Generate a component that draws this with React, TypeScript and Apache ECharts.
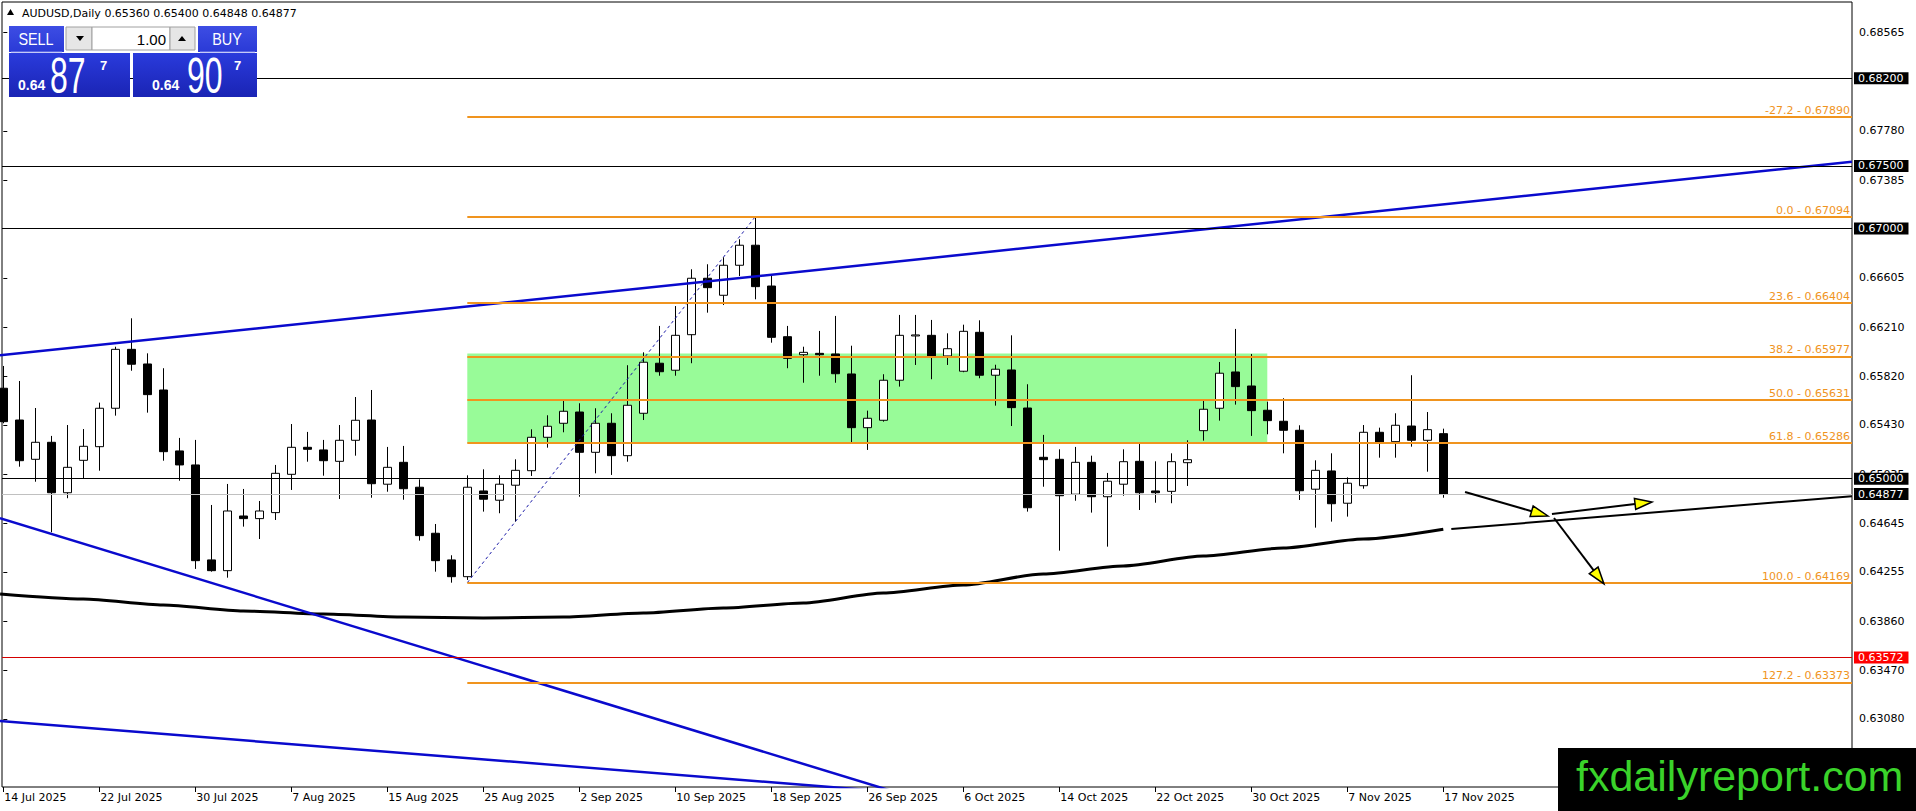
import React, { useEffect, useRef } from "react";
import * as echarts from "echarts";

// ---------- DATA ----------
const SYMBOL = "AUDUSD";
const TIMEFRAME = "Daily";

const OPEN = [
  0.65723, 0.65469, 0.65155, 0.65291, 0.64888, 0.65147, 0.65256, 0.65563, 0.66034, 0.65917,
  0.65709, 0.65222, 0.6511, 0.64351, 0.64265, 0.64702, 0.64681, 0.64729, 0.65035, 0.65251,
  0.6523, 0.65139, 0.65307, 0.65469, 0.64956, 0.65131, 0.64932, 0.64564, 0.64351, 0.64217,
  0.64902, 0.64828, 0.64948, 0.65064, 0.65331, 0.65443, 0.65533, 0.65211, 0.65443, 0.65184,
  0.65523, 0.65923, 0.65867, 0.66151, 0.66602, 0.66466, 0.66706, 0.66866, 0.6654, 0.66135,
  0.65991, 0.66002, 0.65997, 0.65837, 0.65408, 0.65467, 0.65787, 0.66141, 0.66146, 0.65981,
  0.65859, 0.6617, 0.65827, 0.65869, 0.65565, 0.65171, 0.65155, 0.64876, 0.65131, 0.64856,
  0.64956, 0.65139, 0.64902, 0.64899, 0.65128, 0.65384, 0.65563, 0.65853, 0.65741, 0.65547,
  0.65459, 0.65387, 0.64916, 0.65062, 0.64804, 0.64944, 0.65371, 0.65296, 0.65421, 0.65307,
  0.6536,
];
const HIGH = [
  0.65901, 0.65781, 0.65565, 0.65342, 0.65429, 0.65397, 0.65608, 0.66055, 0.66282, 0.66002,
  0.65883, 0.65326, 0.6531, 0.6479, 0.64958, 0.64918, 0.64822, 0.6511, 0.65437, 0.65374,
  0.6531, 0.65429, 0.65653, 0.65709, 0.65254, 0.65262, 0.64995, 0.64638, 0.64388, 0.65027,
  0.65075, 0.65027, 0.65155, 0.65395, 0.65507, 0.65621, 0.65603, 0.65563, 0.65523, 0.65907,
  0.6601, 0.66221, 0.6638, 0.66674, 0.66714, 0.6677, 0.66914, 0.67094, 0.66628, 0.66221,
  0.66055, 0.66181, 0.66301, 0.66063, 0.65544, 0.65835, 0.66309, 0.66309, 0.66269, 0.66162,
  0.66231, 0.66266, 0.65911, 0.66146, 0.65755, 0.6535, 0.65235, 0.65254, 0.65184, 0.65046,
  0.65235, 0.6528, 0.65139, 0.65203, 0.65307, 0.65627, 0.65933, 0.66197, 0.65997, 0.65616,
  0.65643, 0.65427, 0.65147, 0.65203, 0.65011, 0.65429, 0.65408, 0.65523, 0.65827, 0.65533,
  0.654,
];
const LOW = [
  0.65443, 0.65096, 0.64976, 0.64572, 0.64844, 0.64998, 0.65064, 0.65504, 0.65863, 0.65528,
  0.65144, 0.64984, 0.64279, 0.64257, 0.64209, 0.64617, 0.64518, 0.6467, 0.6491, 0.65136,
  0.65024, 0.64838, 0.65184, 0.64848, 0.64896, 0.64832, 0.64505, 0.64257, 0.64169, 0.64191,
  0.64737, 0.64724, 0.64657, 0.65022, 0.65248, 0.65371, 0.64856, 0.65043, 0.6503, 0.65136,
  0.65469, 0.65823, 0.65823, 0.65923, 0.66327, 0.66388, 0.6662, 0.66434, 0.66087, 0.65883,
  0.65767, 0.65823, 0.65767, 0.65291, 0.6523, 0.65456, 0.65736, 0.65909, 0.65795, 0.65909,
  0.65851, 0.65803, 0.65584, 0.65421, 0.64737, 0.64936, 0.64425, 0.64824, 0.64729, 0.64457,
  0.64864, 0.6475, 0.64808, 0.64804, 0.64942, 0.65304, 0.65464, 0.65592, 0.65342, 0.65355,
  0.65203, 0.6483, 0.64609, 0.64657, 0.64697, 0.6492, 0.65168, 0.65168, 0.65256, 0.65056,
  0.64848,
];
const CLOSE = [
  0.65456, 0.65144, 0.65291, 0.64888, 0.65091, 0.65259, 0.65563, 0.66034, 0.65915, 0.65672,
  0.65216, 0.6511, 0.64345, 0.64265, 0.64742, 0.64681, 0.64742, 0.65043, 0.65251, 0.65235,
  0.65144, 0.65307, 0.65467, 0.6496, 0.65091, 0.6492, 0.64545, 0.64345, 0.64217, 0.64932,
  0.64836, 0.64956, 0.65067, 0.65331, 0.65419, 0.65539, 0.65211, 0.65443, 0.65184, 0.65587,
  0.65931, 0.65855, 0.66146, 0.66602, 0.66527, 0.66706, 0.66866, 0.66535, 0.6613, 0.65962,
  0.6601, 0.65991, 0.65839, 0.65408, 0.65483, 0.65787, 0.66146, 0.66149, 0.65981, 0.66039,
  0.66178, 0.65827, 0.65875, 0.65568, 0.64768, 0.65152, 0.64864, 0.65131, 0.64856, 0.6498,
  0.65136, 0.64888, 0.64888, 0.65136, 0.65152, 0.65555, 0.65843, 0.65736, 0.65544, 0.65464,
  0.65387, 0.64904, 0.65067, 0.648, 0.64964, 0.65371, 0.65291, 0.65427, 0.65307, 0.65392,
  0.64877,
];

const DATE_TICK_BARS = [0, 6, 12, 18, 24, 30, 36, 42, 48, 54, 60, 66, 72, 78, 84, 90];
const DATE_LABELS = [
  "14 Jul 2025", "22 Jul 2025", "30 Jul 2025", "7 Aug 2025", "15 Aug 2025", "25 Aug 2025",
  "2 Sep 2025", "10 Sep 2025", "18 Sep 2025", "26 Sep 2025", "6 Oct 2025", "14 Oct 2025",
  "22 Oct 2025", "30 Oct 2025", "7 Nov 2025", "17 Nov 2025",
];

const PRICE_TICKS = [
  0.68565, 0.6778, 0.67385, 0.66605, 0.6621, 0.6582, 0.6543, 0.65035, 0.64645, 0.64255,
  0.6386, 0.6347, 0.6308,
];

const MA_BARS = [-0.2, 5, 10, 15, 20, 25, 30, 35, 40, 45, 50, 55, 60, 65, 70, 75, 80, 85, 90];
const MA_VALUES = [
  0.64079, 0.64039, 0.63991, 0.63943, 0.63919, 0.63895, 0.63887, 0.63895, 0.63927, 0.63967,
  0.64007, 0.64087, 0.64151, 0.64239, 0.64303, 0.64382, 0.64446, 0.64518, 0.64596,
];

const FIB_NAMES = ["-27.2", "0.0", "23.6", "38.2", "50.0", "61.8", "100.0", "127.2"];
const FIB_PRICES = [0.6789, 0.67094, 0.66404, 0.65977, 0.65631, 0.65286, 0.64169, 0.63373];
const FIB_START_BAR = 29;
const FIB_ANCHOR_BARS = [29, 47];
const FIB_ANCHOR_PRICES = [0.64169, 0.67094];

const ZONE_BARS = [29, 79];
const ZONE_PRICES = [0.66, 0.65283];

const LEVEL_PRICES = [0.682, 0.675, 0.67, 0.65];
const BID_PRICE = 0.64877;
const ASK_PRICE = 0.64907;
const ALERT_PRICE = 0.63572;
const LOT_SIZE = "1.00";

const UPPER_TREND_BARS = [-0.21, 115.54];
const UPPER_TREND_PRICES = [0.65986, 0.67534];
const LOWER_TREND1_BARS = [-0.21, 62.29];
const LOWER_TREND1_PRICES = [0.64684, 0.6224];
const LOWER_TREND2_BARS = [-0.21, 62.29];
const LOWER_TREND2_PRICES = [0.63064, 0.62428];
const SUPPORT_BARS = [90.5, 115.54];
const SUPPORT_PRICES = [0.64598, 0.6486];

const ARROW_FROM_BARS = [91.36, 96.79, 96.92];
const ARROW_FROM_PRICES = [0.64894, 0.64718, 0.64686];
const ARROW_TO_BARS = [96.54, 103.04, 100.04];
const ARROW_TO_PRICES = [0.64702, 0.64814, 0.64159];

// ---------- LAYOUT / STYLE ----------
const W = 1916;
const H = 811;
const GRID_LEFT = 2;
const GRID_TOP = 2;
const GRID_W = 1850;
const GRID_H = 785;
const X_MIN = -0.08125;
const X_MAX = X_MIN + GRID_W / 16;
const Y_MAX = 0.6881;
const Y_MIN = 0.62536;

const FONT = '"DejaVu Sans", sans-serif';
const SANS = '"Liberation Sans", Arial, sans-serif';
const ORANGE = "#f0941e";
const BLUE = "#0a0acd";

function buildOption(): any {
  const candles = OPEN.map((o, i) => [i, o, CLOSE[i], LOW[i], HIGH[i]]);

  const boxLabel = (p: number, bg: string) => ({
    show: true,
    position: "end",
    distance: 2,
    formatter: p.toFixed(5),
    color: "#ffffff",
    backgroundColor: bg,
    padding: [1, 5, 0, 4],
    fontFamily: FONT,
    fontSize: 11,
  });

  const levelLines: any[] = LEVEL_PRICES.map((p) => ({
    yAxis: p,
    lineStyle: { color: "#000000", width: 1, type: "solid" },
    label: boxLabel(p, "#000000"),
  }));
  levelLines.push({
    yAxis: BID_PRICE,
    lineStyle: { color: "#c0c0c0", width: 1, type: "solid" },
    label: boxLabel(BID_PRICE, "#000000"),
  });
  levelLines.push({
    yAxis: ALERT_PRICE,
    lineStyle: { color: "#d40000", width: 1, type: "solid" },
    label: boxLabel(ALERT_PRICE, "#ff0000"),
  });

  const fibLines = FIB_PRICES.map((p, k) => [
    {
      coord: [FIB_START_BAR, p],
      lineStyle: { color: ORANGE, width: 2, type: "solid" },
      label: {
        show: true,
        position: "insideEndTop",
        distance: [2, 1],
        formatter: `${FIB_NAMES[k]} - ${p.toFixed(5)}`,
        color: ORANGE,
        fontFamily: FONT,
        fontSize: 11,
      },
    },
    { coord: [X_MAX, p] },
  ]);

  const trend = (name: string, bars: number[], prices: number[], color: string, width: number, type: any = "solid") => ({
    name,
    type: "line",
    z: 4,
    silent: true,
    symbol: "none",
    showSymbol: false,
    data: bars.map((b, i) => [b, prices[i]]),
    lineStyle: { color, width, type },
  });

  const arrowData = ARROW_FROM_BARS.map((b, i) => [b, ARROW_FROM_PRICES[i], ARROW_TO_BARS[i], ARROW_TO_PRICES[i]]);

  const split = (p: number) => {
    const s = p.toFixed(5);
    return [s.slice(0, 4), s.slice(4, 6), s.slice(6)];
  };
  const bid = split(BID_PRICE);
  const ask = split(ASK_PRICE);

  const grad = (a: string, b: string) =>
    new echarts.graphic.LinearGradient(0, 0, 0, 1, [
      { offset: 0, color: a },
      { offset: 1, color: b },
    ]);

  const txt = (x: number, y: number, text: string, size: number, color: string, align = "left", weight = "normal", scaleX = 1, family = SANS) => ({
    type: "text",
    x,
    y,
    scaleX,
    z: 101,
    style: {
      text,
      fill: color,
      fontSize: size,
      fontFamily: family,
      fontWeight: weight,
      align,
      verticalAlign: "middle",
    },
  });

  const header = `${SYMBOL},${TIMEFRAME} ${OPEN[90].toFixed(5)} ${HIGH[90].toFixed(5)} ${LOW[90].toFixed(5)} ${CLOSE[90].toFixed(5)}`;

  const graphic: any[] = [
    { type: "polygon", z: 100, shape: { points: [[7, 15], [14, 15], [10.5, 9]] }, style: { fill: "#000" } },
    txt(22, 13, header, 11, "#000000", "left", "normal", 1, FONT),
    // SELL
    { type: "rect", z: 100, shape: { x: 9, y: 26, width: 55, height: 26 }, style: { fill: grad("#3d4de4", "#2a3ad6") } },
    txt(36, 39, "SELL", 16, "#ffffff", "center", "normal", 0.9),
    { type: "line", z: 101, shape: { x1: 11, y1: 52, x2: 62, y2: 52 }, style: { stroke: "#8c96f0", lineWidth: 1 } },
    // lot controls
    { type: "rect", z: 100, shape: { x: 66, y: 27, width: 26, height: 23 }, style: { fill: "#e6e6e6", stroke: "#a0a0a0", lineWidth: 1 } },
    { type: "polygon", z: 101, shape: { points: [[76, 36], [84, 36], [80, 41]] }, style: { fill: "#000" } },
    { type: "rect", z: 100, shape: { x: 92, y: 27, width: 78, height: 23 }, style: { fill: "#ffffff", stroke: "#a0a0a0", lineWidth: 1 } },
    txt(166, 39, LOT_SIZE, 15, "#000000", "right", "normal", 1),
    { type: "rect", z: 100, shape: { x: 170, y: 27, width: 25, height: 23 }, style: { fill: "#e6e6e6", stroke: "#a0a0a0", lineWidth: 1 } },
    { type: "polygon", z: 101, shape: { points: [[178, 41], [186, 41], [182, 36]] }, style: { fill: "#000" } },
    // BUY
    { type: "rect", z: 100, shape: { x: 198, y: 26, width: 59, height: 26 }, style: { fill: grad("#3d4de4", "#2a3ad6") } },
    txt(227, 39, "BUY", 16, "#ffffff", "center", "normal", 0.9),
    { type: "line", z: 101, shape: { x1: 200, y1: 52, x2: 255, y2: 52 }, style: { stroke: "#8c96f0", lineWidth: 1 } },
    // price boxes
    { type: "rect", z: 100, shape: { x: 9, y: 53, width: 121, height: 44 }, style: { fill: grad("#2a3bdc", "#1a24b4") } },
    { type: "rect", z: 100, shape: { x: 133, y: 53, width: 124, height: 44 }, style: { fill: grad("#2a3bdc", "#1a24b4") } },
    txt(18, 85, bid[0], 14, "#ffffff", "left", "bold"),
    txt(50, 76, bid[1], 50, "#ffffff", "left", "normal", 0.64),
    txt(100, 65, bid[2], 13, "#ffffff", "left", "bold"),
    txt(152, 85, ask[0], 14, "#ffffff", "left", "bold"),
    txt(187, 76, ask[1], 50, "#ffffff", "left", "normal", 0.64),
    txt(234, 65, ask[2], 13, "#ffffff", "left", "bold"),
    // watermark
    { type: "rect", z: 100, shape: { x: 1558, y: 748, width: 358, height: 63 }, style: { fill: "#000000" } },
    txt(1576, 776, "fxdailyreport.com", 43, "#3ad32a", "left", "normal", 1),
  ];

  return {
    animation: false,
    backgroundColor: "#ffffff",
    textStyle: { fontFamily: FONT },
    grid: {
      left: GRID_LEFT,
      top: GRID_TOP,
      width: GRID_W,
      height: GRID_H,
      show: true,
      borderColor: "#000000",
      borderWidth: 1,
      backgroundColor: "#ffffff",
      containLabel: false,
      outerBoundsMode: "none",
    },
    xAxis: {
      type: "value",
      min: X_MIN,
      max: X_MAX,
      axisLine: { show: false },
      splitLine: { show: false },
      axisTick: { show: true, customValues: DATE_TICK_BARS, length: 5, lineStyle: { color: "#000" } },
      axisLabel: {
        show: true,
        customValues: DATE_TICK_BARS,
        formatter: (v: number) => {
          const k = DATE_TICK_BARS.indexOf(Math.round(v));
          return k >= 0 ? DATE_LABELS[k] : "";
        },
        align: "left",
        margin: 5,
        padding: [0, 0, 0, 1],
        color: "#000000",
        fontFamily: FONT,
        fontSize: 11,
      },
    },
    yAxis: {
      type: "value",
      position: "right",
      min: Y_MIN,
      max: Y_MAX,
      axisLine: { show: false },
      splitLine: { show: false },
      axisTick: { show: true, customValues: PRICE_TICKS, length: 4, lineStyle: { color: "#000" } },
      axisLabel: {
        show: true,
        customValues: PRICE_TICKS,
        formatter: (v: number) => v.toFixed(5),
        margin: 7,
        color: "#000000",
        fontFamily: FONT,
        fontSize: 11,
      },
    },
    series: [
      {
        name: "zone",
        type: "line",
        data: [],
        z: 1,
        silent: true,
        markArea: {
          silent: true,
          z: 1,
          itemStyle: { color: "#98fb98", borderWidth: 0, opacity: 1 },
          data: [[{ coord: [ZONE_BARS[0], ZONE_PRICES[0]] }, { coord: [ZONE_BARS[1], ZONE_PRICES[1]] }]],
        },
      },
      {
        name: SYMBOL,
        type: "candlestick",
        z: 2,
        silent: true,
        barWidth: 9,
        data: candles,
        itemStyle: {
          color: "#ffffff",
          color0: "#000000",
          borderColor: "#000000",
          borderColor0: "#000000",
          borderWidth: 1,
        },
      },
      {
        name: "MA",
        type: "line",
        z: 3,
        silent: true,
        symbol: "none",
        showSymbol: false,
        smooth: 0.25,
        smoothMonotone: "x",
        data: MA_BARS.map((b, i) => [b, MA_VALUES[i]]),
        lineStyle: { color: "#000000", width: 3 },
      },
      trend("upper", UPPER_TREND_BARS, UPPER_TREND_PRICES, BLUE, 2.5),
      trend("lower1", LOWER_TREND1_BARS, LOWER_TREND1_PRICES, BLUE, 2.5),
      trend("lower2", LOWER_TREND2_BARS, LOWER_TREND2_PRICES, BLUE, 2.5),
      trend("fibAnchor", FIB_ANCHOR_BARS, FIB_ANCHOR_PRICES, "#1a1aa8", 1, [3, 3]),
      trend("support", SUPPORT_BARS, SUPPORT_PRICES, "#000000", 2),
      {
        name: "levels",
        type: "line",
        data: [],
        z: 5,
        clip: false,
        silent: true,
        markLine: {
          silent: true,
          symbol: "none",
          precision: 5,
          z: 5,
          emphasis: { disabled: true },
          data: [...fibLines, ...levelLines],
        },
      },
      {
        name: "arrows",
        type: "custom",
        z: 6,
        silent: true,
        clip: false,
        encode: { x: [0, 2], y: [1, 3] },
        data: arrowData,
        renderItem: (_params: any, api: any) => {
          const a = api.coord([api.value(0), api.value(1)]);
          const b = api.coord([api.value(2), api.value(3)]);
          const dx = b[0] - a[0];
          const dy = b[1] - a[1];
          const len = Math.hypot(dx, dy) || 1;
          const ux = dx / len;
          const uy = dy / len;
          const L = 17;
          const Wd = 5.5;
          const bx = b[0] - ux * L;
          const by = b[1] - uy * L;
          return {
            type: "group",
            children: [
              { type: "line", shape: { x1: a[0], y1: a[1], x2: bx, y2: by }, style: { stroke: "#000000", lineWidth: 2 } },
              {
                type: "polygon",
                shape: { points: [[b[0], b[1]], [bx - uy * Wd, by + ux * Wd], [bx + uy * Wd, by - ux * Wd]] },
                style: { fill: "#ffff00", stroke: "#000000", lineWidth: 1.5 },
              },
            ],
          };
        },
      },
    ],
    graphic,
  };
}

export default function App() {
  const ref = useRef<HTMLDivElement>(null);
  useEffect(() => {
    if (!ref.current) return;
    const chart = echarts.init(ref.current, null, { renderer: "svg" });
    chart.setOption(buildOption());
    return () => chart.dispose();
  }, []);
  return (
    <div
      ref={ref}
      style={{ position: "fixed", left: 0, top: 0, width: `${W}px`, height: `${H}px`, background: "#ffffff" }}
    />
  );
}
